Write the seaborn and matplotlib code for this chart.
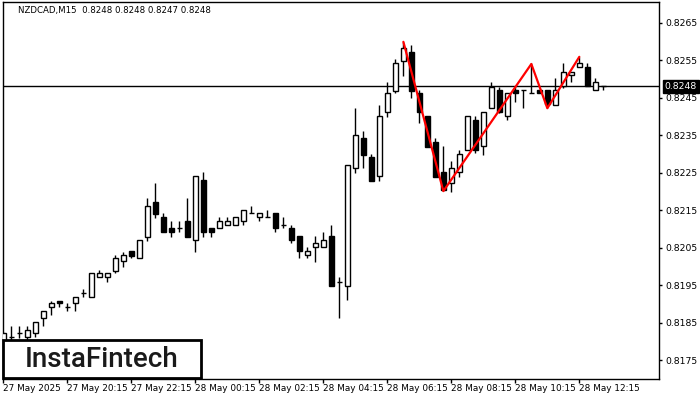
import numpy as np
import pandas as pd
import matplotlib
matplotlib.use('Agg')
from matplotlib import pyplot as plt
from matplotlib.patches import Rectangle
from matplotlib.ticker import FormatStrFormatter
import seaborn as sns

title = 'NZDCAD,M15  0.8248 0.8248 0.8247 0.8248'
last_price = 0.8248

# M15 candles
opens = [0.81795, 0.81811, 0.81822, 0.81811, 0.81822, 0.81862, 0.81891, 0.81909, 0.81891, 0.81902,
         0.81930, 0.81919, 0.81973, 0.81971, 0.81989, 0.82014, 0.82040, 0.82022, 0.82079, 0.82171,
         0.82131, 0.82102, 0.82102, 0.82121, 0.82070, 0.82230, 0.82102, 0.82102, 0.82110, 0.82110,
         0.82121, 0.82142, 0.82131, 0.82131, 0.82142, 0.82111, 0.82102, 0.82080, 0.82030, 0.82051,
         0.82051, 0.82080, 0.81959, 0.81949, 0.82262, 0.82342, 0.82292, 0.82240, 0.82411, 0.82469,
         0.82549, 0.82571, 0.82462, 0.82401, 0.82331, 0.82251, 0.82222, 0.82251, 0.82310, 0.82390,
         0.82321, 0.82422, 0.82470, 0.82401, 0.82470, 0.82470, 0.82462, 0.82470, 0.82470, 0.82430,
         0.82481, 0.82511, 0.82532, 0.82532, 0.82470, 0.82480]
highs = [0.81825, 0.81841, 0.81841, 0.81841, 0.81852, 0.81881, 0.81909, 0.81909, 0.81902, 0.81919,
         0.81941, 0.81982, 0.81990, 0.81982, 0.82030, 0.82039, 0.82041, 0.82070, 0.82182, 0.82223,
         0.82142, 0.82121, 0.82121, 0.82182, 0.82240, 0.82251, 0.82102, 0.82131, 0.82131, 0.82131,
         0.82150, 0.82161, 0.82142, 0.82150, 0.82142, 0.82131, 0.82110, 0.82080, 0.82051, 0.82080,
         0.82091, 0.82110, 0.81971, 0.82270, 0.82422, 0.82361, 0.82300, 0.82430, 0.82493, 0.82552,
         0.82599, 0.82591, 0.82470, 0.82401, 0.82342, 0.82321, 0.82281, 0.82310, 0.82401, 0.82401,
         0.82412, 0.82493, 0.82479, 0.82462, 0.82481, 0.82470, 0.82542, 0.82470, 0.82470, 0.82502,
         0.82542, 0.82519, 0.82559, 0.82542, 0.82502, 0.82480]
lows = [0.81785, 0.81795, 0.81808, 0.81804, 0.81812, 0.81841, 0.81870, 0.81891, 0.81880, 0.81880,
        0.81919, 0.81919, 0.81973, 0.81959, 0.81982, 0.81999, 0.82022, 0.82022, 0.82069, 0.82130,
        0.82091, 0.82079, 0.82091, 0.82079, 0.82039, 0.82079, 0.82079, 0.82102, 0.82110, 0.82110,
        0.82110, 0.82142, 0.82121, 0.82131, 0.82091, 0.82102, 0.82062, 0.82022, 0.82022, 0.82012,
        0.82051, 0.81949, 0.81862, 0.81910, 0.82250, 0.82262, 0.82229, 0.82229, 0.82399, 0.82462,
        0.82509, 0.82450, 0.82382, 0.82319, 0.82239, 0.82201, 0.82199, 0.82239, 0.82310, 0.82302,
        0.82297, 0.82422, 0.82410, 0.82390, 0.82439, 0.82422, 0.82462, 0.82462, 0.82422, 0.82430,
        0.82475, 0.82491, 0.82532, 0.82481, 0.82470, 0.82470]
closes = [0.81822, 0.81811, 0.81823, 0.81830, 0.81852, 0.81880, 0.81902, 0.81902, 0.81891, 0.81919,
          0.81930, 0.81982, 0.81982, 0.81982, 0.82022, 0.82030, 0.82029, 0.82070, 0.82161, 0.82141,
          0.82091, 0.82091, 0.82102, 0.82079, 0.82240, 0.82091, 0.82091, 0.82121, 0.82121, 0.82131,
          0.82150, 0.82142, 0.82142, 0.82131, 0.82102, 0.82111, 0.82070, 0.82041, 0.82041, 0.82062,
          0.82070, 0.81949, 0.81959, 0.82270, 0.82350, 0.82297, 0.82229, 0.82401, 0.82462, 0.82542,
          0.82582, 0.82469, 0.82411, 0.82319, 0.82239, 0.82204, 0.82262, 0.82299, 0.82401, 0.82310,
          0.82412, 0.82479, 0.82411, 0.82462, 0.82462, 0.82470, 0.82462, 0.82462, 0.82433, 0.82470,
          0.82519, 0.82519, 0.82542, 0.82481, 0.82491, 0.82480]

# red pattern line (bar index, price)
pattern_bar = [50, 55, 66, 68, 72]
pattern_price = [0.82599, 0.82201, 0.82540, 0.82422, 0.82559]

time_labels = ['27 May 2025', '27 May 20:15', '27 May 22:15', '28 May 00:15', '28 May 02:15',
               '28 May 04:15', '28 May 06:15', '28 May 08:15', '28 May 10:15', '28 May 12:15']
price_ticks = [0.8175, 0.8185, 0.8195, 0.8205, 0.8215, 0.8225, 0.8235, 0.8245, 0.8255, 0.8265]

sns.set_style('white')
plt.rcParams['font.family'] = ['DejaVu Sans']

df = pd.DataFrame({'o': opens, 'h': highs, 'l': lows, 'c': closes})
df['i'] = np.arange(len(df))
up = df['c'] >= df['o']

fig = plt.figure(figsize=(7, 4), dpi=100)
ax = fig.add_axes([2.7 / 700, 21 / 400, 656.6 / 700, 377.3 / 400])

ax.axhline(last_price, color='black', lw=1, zorder=1)
ax.vlines(df['i'], df['l'], df['h'], color='black', lw=1, zorder=2)
ax.bar(df['i'], (df['c'] - df['o']).abs(), bottom=df[['o', 'c']].min(axis=1), width=0.55,
       color=np.where(up, 'white', 'black'), edgecolor='black', linewidth=1, zorder=3)

sns.lineplot(x=pattern_bar, y=pattern_price, sort=False, color='red', lw=1.6, ax=ax, zorder=4)

ax.set_xlim(-0.1, 82)
ax.set_ylim(0.8170, 0.82706)

for s in ax.spines.values():
    s.set_color('black')
    s.set_linewidth(1)

ax.yaxis.tick_right()
ax.set_yticks(price_ticks)
ax.yaxis.set_major_formatter(FormatStrFormatter('%.4f'))
ax.tick_params(axis='y', direction='out', length=2.2, width=1, pad=1.9, labelsize=6.7,
               colors='black', right=True, left=False)

ax.set_xticks(range(0, 8 * len(time_labels), 8), time_labels)
ax.tick_params(axis='x', direction='out', length=2.9, width=1, pad=1.0, labelsize=6.4,
               colors='black', bottom=True)
for lab in ax.get_xticklabels():
    lab.set_ha('left')
ax.set_xlabel('')
ax.set_ylabel('')

# current price tag on the right scale
ax.annotate(f'{last_price:.4f}', xy=(1.0, last_price), xycoords=('axes fraction', 'data'),
            xytext=(4, 0), textcoords='offset points', ha='left', va='center',
            fontsize=6.7, color='white',
            bbox=dict(boxstyle='square,pad=0.2', fc='black', ec='black'), annotation_clip=False)

fig.text(18 / 700, 389 / 400, title, fontsize=6.2, va='center', ha='left', color='black')

# logo box
fig.add_artist(Rectangle((3 / 700, 22 / 400), 198 / 700, 38 / 400, transform=fig.transFigure,
                         facecolor='white', edgecolor='black', lw=2, zorder=10))
fig.text(101.5 / 700, 40.5 / 400, 'InstaFintech', fontsize=20, ha='center', va='center',
         family=['Roboto', 'DejaVu Sans'], fontweight='medium', color='#1a1a1a', zorder=11)

fig.savefig('out.png', dpi=100)
